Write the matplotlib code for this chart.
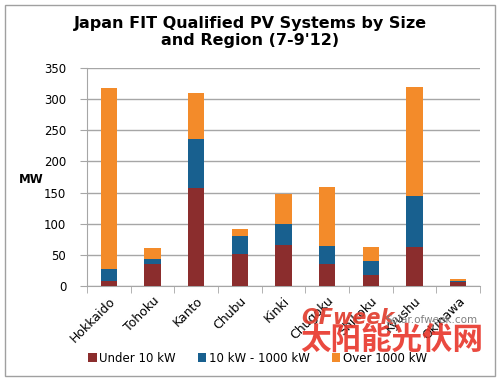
import matplotlib.pyplot as plt
import numpy as np
from matplotlib.patches import Rectangle

# Values (MW), Jul-Sep 2012
regions = ["Hokkaido", "Tohoku", "Kanto", "Chubu", "Kinki",
           "Chugoku", "Shikoku", "Kyushu", "Okinawa"]
under_10kw = [9, 35, 158, 52, 66, 36, 18, 63, 6]
kw10_1000 = [19, 8, 78, 29, 34, 28, 23, 81, 3]
over_1000kw = [290, 18, 74, 10, 47, 95, 22, 175, 2]

series_labels = ["Under 10 kW", "10 kW - 1000 kW", "Over 1000 kW"]
colors = ["#8b2d2d", "#18608f", "#f38b2a"]

plt.rcParams["font.family"] = ["DejaVu Sans"]

fig = plt.figure(figsize=(5.0, 3.81), dpi=100)
ax = fig.add_axes([0.174, 0.249, 0.786, 0.573])

# outer chart border
fig.patches.append(Rectangle((0.01, 0.013), 0.98, 0.975, transform=fig.transFigure,
                             fill=False, edgecolor="#a0a0a0", linewidth=1.0))

x = np.arange(len(regions))
bottom = np.zeros(len(regions))
handles = []
for vals, lab, col in zip([under_10kw, kw10_1000, over_1000kw], series_labels, colors):
    h = ax.bar(x, vals, width=0.37, bottom=bottom, color=col, label=lab, zorder=3)
    handles.append(h)
    bottom += np.array(vals)

ax.set_xlim(-0.5, len(regions) - 0.5)
ax.set_ylim(0, 350)
ax.set_yticks(np.arange(0, 351, 50))
ax.yaxis.grid(True, color="#a6a6a6", linewidth=1.0, zorder=0)
ax.set_axisbelow(True)

for s in ["top", "right"]:
    ax.spines[s].set_visible(False)
ax.spines["left"].set_color("#a6a6a6")
ax.spines["bottom"].set_color("#a6a6a6")

ax.tick_params(axis="y", labelsize=8.5, length=5, pad=10, color="#a6a6a6", labelcolor="#000000")
ax.set_xticks(x)
ax.set_xticklabels(regions, rotation=45, ha="right", rotation_mode="anchor", fontsize=9)
ax.tick_params(axis="x", length=0, pad=6)
ax.set_xticks(np.arange(-0.5, len(regions), 1.0), minor=True)
ax.tick_params(axis="x", which="minor", length=5, color="#a6a6a6")

fig.text(0.062, 0.53, "MW", fontsize=8.5, fontweight="bold", ha="center", va="center")

fig.text(0.5, 0.915, "Japan FIT Qualified PV Systems by Size\nand Region (7-9'12)",
         fontsize=11.5, fontweight="bold", ha="center", va="center", linespacing=1.15)

fig.legend(handles, series_labels, loc="center", bbox_to_anchor=(0.515, 0.06), ncol=3,
           frameon=False, fontsize=8.5, handlelength=0.7, handleheight=0.7,
           handletextpad=0.2, columnspacing=1.9)

# watermark
fig.text(0.602, 0.165, "OFweek", fontsize=15, fontweight="bold", fontstyle="italic",
         color="#e03a2a", ha="left", va="center", alpha=0.9)
fig.text(0.77, 0.16, "Solar.ofweek.com", fontsize=7.5, color="#808080",
         ha="left", va="center")
fig.text(0.6, 0.108, "太阳能光伏网", fontsize=22, fontweight="bold", color="#e8352a",
         ha="left", va="center", family=["Noto Sans CJK SC", "DejaVu Sans"], alpha=0.9)

fig.savefig("out.png", dpi=100)
